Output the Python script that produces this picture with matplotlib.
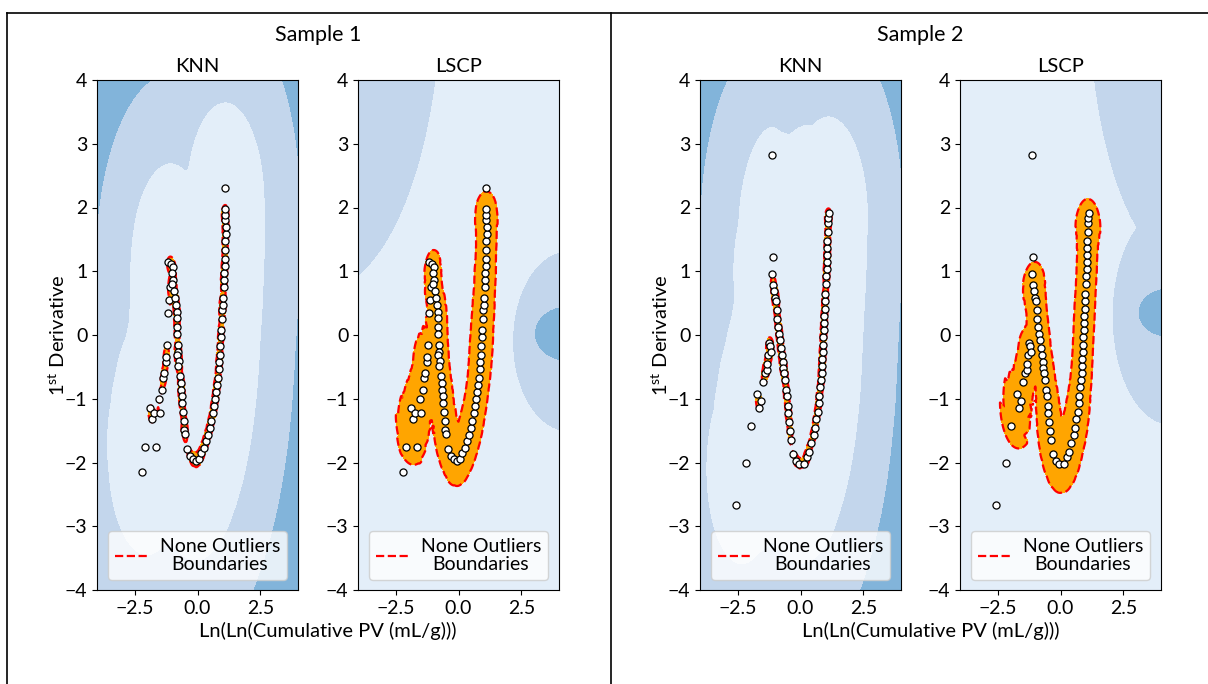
import numpy as np
import matplotlib
matplotlib.use("Agg")
import matplotlib.pyplot as plt
from matplotlib.lines import Line2D

plt.rcParams["font.family"] = ["Lato", "DejaVu Sans"]
plt.rcParams["mathtext.fontset"] = "custom"
plt.rcParams["mathtext.rm"] = "Lato"
plt.rcParams["font.size"] = 14

# ---------- data ----------
s1_x = [1.10, -2.22, -2.09, -1.67, -1.91, -1.82, -1.75, -1.54, -1.49, -1.41,
        -1.36, -1.32, -1.25, -1.24, -1.21, -1.16, -1.12, -1.09,
        -1.17, -1.05, -0.98, -1.01, -0.96, -1.00, -0.92, -0.89, -0.85, -0.82,
        -0.81, -0.82, -0.82, -0.78, -0.76, -0.81, -0.72, -0.76, -0.68, -0.65,
        -0.64, -0.63, -0.62, -0.57, -0.54, -0.52, -0.49, -0.43,
        -0.29, -0.16, -0.05, 0.07, 0.15, 0.25, 0.32, 0.41, 0.48, 0.54, 0.61,
        0.65, 0.70, 0.74, 0.77, 0.81, 0.84, 0.86, 0.89, 0.90, 0.93, 0.94,
        0.96, 0.98, 1.01, 1.02, 1.04, 1.05, 1.06, 1.08, 1.09, 1.10, 1.10,
        1.12, 1.12, 1.10, 1.10, 1.10]
s1_y = [2.31, -2.15, -1.75, -1.75, -1.15, -1.32, -1.23, -1.01, -1.22, -0.86,
        -0.68, -0.60, -0.42, -0.34, -0.16, 0.35, 0.55, 0.75,
        1.14, 1.11, 1.06, 0.97, 0.86, 0.80, 0.69, 0.58, 0.47, 0.36,
        0.27, 0.13, 0.02, -0.15, -0.26, -0.32, -0.40, -0.48, -0.64, -0.76,
        -0.86, -0.95, -1.07, -1.21, -1.35, -1.49, -1.55, -1.79,
        -1.90, -1.95, -1.97, -1.94, -1.85, -1.77, -1.66, -1.57, -1.46, -1.35,
        -1.23, -1.12, -1.01, -0.90, -0.79, -0.68, -0.54, -0.42, -0.31, -0.17,
        -0.03, 0.08, 0.25, 0.39, 0.47, 0.58, 0.75, 0.86, 0.97, 1.08, 1.20,
        1.34, 1.47, 1.59, 1.70, 1.81, 1.89, 1.97]

s2_x = [-1.14, -2.58, -2.18, -1.99, -1.75, -1.67, -1.58, -1.48, -1.42, -1.35,
        -1.32, -1.28, -1.24, -1.22, -1.18,
        -1.11, -1.12, -1.08, -1.04, -1.00, -0.98, -0.95, -0.92, -0.88, -0.84,
        -0.82, -0.79, -0.75, -0.71, -0.68, -0.64, -0.60, -0.58, -0.55, -0.51,
        -0.48, -0.45, -0.41, -0.39, -0.31, -0.17, -0.04, 0.15, 0.25, 0.32,
        0.41, 0.52, 0.56, 0.63, 0.68, 0.72, 0.75, 0.79, 0.82, 0.84, 0.86,
        0.87, 0.88, 0.90, 0.91, 0.92, 0.94, 0.95, 0.96, 0.98, 0.99, 1.02,
        1.03, 1.04, 1.06, 1.06, 1.07, 1.07, 1.09, 1.10, 1.10, 1.12]
s2_y = [2.83, -2.66, -2.00, -1.42, -0.93, -1.14, -1.03, -0.73, -0.59, -0.55,
        -0.45, -0.31, -0.12, -0.17, -0.26,
        1.22, 0.96, 0.78, 0.69, 0.58, 0.53, 0.39, 0.25, 0.13, 0.02,
        -0.08, -0.20, -0.31, -0.42, -0.51, -0.59, -0.70, -0.87, -0.96, -1.12,
        -1.23, -1.36, -1.51, -1.65, -1.87, -1.98, -2.02, -2.02, -1.92, -1.83,
        -1.70, -1.57, -1.46, -1.32, -1.21, -1.07, -0.96, -0.82, -0.70, -0.59,
        -0.48, -0.37, -0.26, -0.15, -0.03, 0.08, 0.19, 0.30, 0.41, 0.53,
        0.64, 0.80, 0.92, 1.03, 1.14, 1.25, 1.36, 1.47, 1.61, 1.75, 1.84,
        1.92]

# LSCP background score surface: local maxima (centre, spread, height)
lscp1_hot_x = [-5.5, 4.4, 4.3]
lscp1_hot_y = [5.5, -0.1, 0.02]
lscp1_hot_sx = [5.33, 2.45, 1.37]
lscp1_hot_sy = [5.33, 1.56, 0.46]
lscp1_hot_h = [1.5, 1.5, 3.0]

lscp2_hot_x = [5.0, 4.4, 4.3]
lscp2_hot_y = [5.5, 0.3, 0.35]
lscp2_hot_sx = [4.3, 2.56, 1.30]
lscp2_hot_sy = [4.9, 1.89, 0.41]
lscp2_hot_h = [1.5, 1.5, 3.0]

BG = ["#e3eef9", "#c3d6ec", "#82b4da"]

gx, gy = np.meshgrid(np.linspace(-4, 4, 241, dtype=np.float32),
                     np.linspace(-4, 4, 401, dtype=np.float32))


def grid_dist(px, py):
    px = np.asarray(px, dtype=np.float32)
    py = np.asarray(py, dtype=np.float32)
    return np.hypot(gx.ravel()[:, None] - px[None, :],
                    gy.ravel()[:, None] - py[None, :])


def knn_score(G, k=3):
    return np.partition(G, k - 1, axis=1)[:, :k].mean(1).reshape(gx.shape)


def lof_score(G, px, py, k=5):
    px = np.asarray(px)
    py = np.asarray(py)
    D = np.hypot(px[:, None] - px[None, :], py[:, None] - py[None, :])
    np.fill_diagonal(D, np.inf)
    nn = np.argsort(D, axis=1)[:, :k]
    kdist = np.take_along_axis(D, nn[:, -1:], 1)[:, 0]
    lrd = 1.0 / np.maximum(kdist[nn], np.take_along_axis(D, nn, 1)).mean(1)
    gnn = np.argpartition(G, k - 1, axis=1)[:, :k]
    gd = np.take_along_axis(G, gnn, 1)
    glrd = 1.0 / np.maximum(kdist[gnn], gd).mean(1)
    return (lrd[gnn].mean(1) / glrd).reshape(gx.shape)


def hot_field(cx, cy, sx, sy, h):
    Z = np.zeros_like(gx)
    for a, b, c, d, e in zip(cx, cy, sx, sy, h):
        Z = np.maximum(Z, e * np.exp(-0.5 * (((gx - a) / c) ** 2 + ((gy - b) / d) ** 2)))
    return Z


def draw_panel(ax, bg, bg_levels, score, thr, px, py, title):
    ax.contourf(gx, gy, bg, levels=[bg.min() - 1] + bg_levels + [bg.max() + 1],
                colors=BG)
    ax.contourf(gx, gy, score, levels=[score.min() - 1, thr], colors="orange")
    ax.contour(gx, gy, score, levels=[thr], colors="red",
               linestyles="dashed", linewidths=1.6)
    ax.scatter(px, py, s=26, c="white", edgecolors="black", linewidths=0.9,
               zorder=3)
    ax.set_xlim(-4, 4)
    ax.set_ylim(-4, 4)
    ax.set_xticks([-2.5, 0.0, 2.5])
    ax.set_yticks(range(-4, 5))
    ax.set_title(title, fontsize=14.5)
    h = Line2D([0], [0], color="red", linestyle="--", linewidth=1.6)
    leg = ax.legend([h], ["None Outliers\nBoundaries"], loc="lower center",
                    fontsize=14, borderpad=0.35, borderaxespad=0.5,
                    handlelength=1.7, handletextpad=0.6)
    for t in leg.get_texts():
        t.set_multialignment("center")
        t.set_linespacing(1.1)


W, H = 1208, 684
fig = plt.figure(figsize=(W / 100, H / 100), dpi=100)


def add_ax(left):
    return fig.add_axes([left / W, 1 - 590 / H, 201 / W, 510 / H])


samples = [(s1_x, s1_y, (lscp1_hot_x, lscp1_hot_y, lscp1_hot_sx, lscp1_hot_sy, lscp1_hot_h)),
           (s2_x, s2_y, (lscp2_hot_x, lscp2_hot_y, lscp2_hot_sx, lscp2_hot_sy, lscp2_hot_h))]
lefts = [(97, 358), (700, 960)]

for i, (px, py, hot) in enumerate(samples):
    G = grid_dist(px, py)
    knn = knn_score(G, 3)
    lof = lof_score(G, px, py, 5)
    ax1 = add_ax(lefts[i][0])
    ax2 = add_ax(lefts[i][1])
    draw_panel(ax1, knn, [1.6, 3.0], knn, 0.15, px, py, "KNN")
    draw_panel(ax2, hot_field(*hot), [1.0, 2.0], lof, 1.3, px, py, "LSCP")

    x0 = (lefts[i][0] + lefts[i][1] + 201) / 2
    fig.text((x0 - 10) / W, 1 - 35 / H, "Sample %d" % (i + 1),
             ha="center", va="center", fontsize=15.5)
    fig.text(x0 / W, 1 - 631 / H, "Ln(Ln(Cumulative PV (mL/g)))",
             ha="center", va="center", fontsize=14.5)
    fig.text((lefts[i][0] - 39) / W, 1 - 335 / H, r"1$^{\mathrm{st}}$ Derivative",
             ha="center", va="center", rotation=90, fontsize=14.5)

# table cell borders
for xs, ys in [([7 / W, 1], [1 - 13 / H, 1 - 13 / H]),
               ([7 / W, 7 / W], [0, 1 - 13 / H]),
               ([611 / W, 611 / W], [0, 1 - 13 / H])]:
    fig.add_artist(Line2D(xs, ys, color="black", linewidth=1.2))

fig.savefig("out.png", dpi=100)
